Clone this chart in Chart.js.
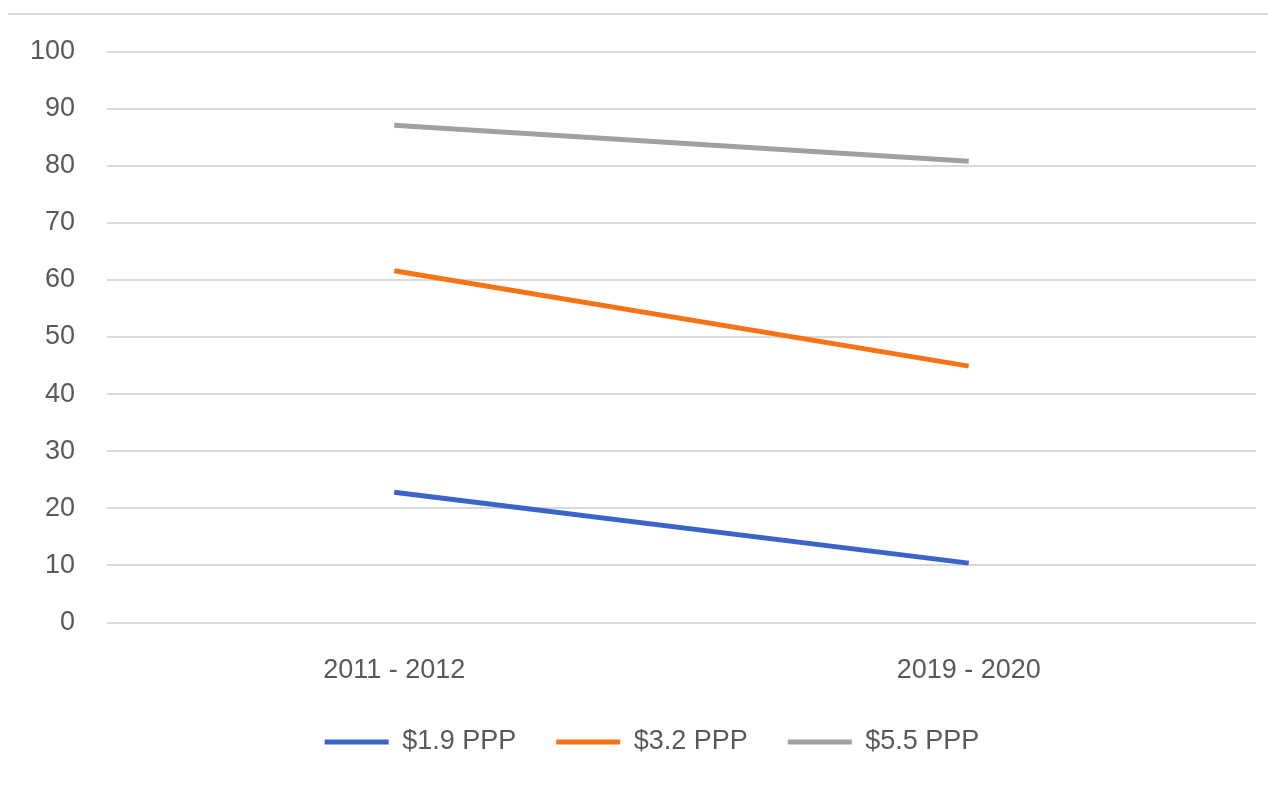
<!DOCTYPE html>
<html>
<head>
<meta charset="utf-8">
<script src="https://cdn.jsdelivr.net/npm/chart.js@4/dist/chart.umd.min.js"></script>
<style>
  html, body { margin: 0; padding: 0; background: #ffffff; }
  #wrap { position: relative; width: 1268px; height: 786px; overflow: hidden; }
  #topline { position: absolute; left: 8px; right: 0; top: 13px; height: 2px; background: #d9d9d9; }
  canvas { position: absolute; left: 0; top: 0; }
</style>
</head>
<body>
<div id="wrap">
  <div id="topline"></div>
  <canvas id="c" width="1268" height="786"></canvas>
</div>
<script>
const categories = ["2011 - 2012", "2019 - 2020"];
const seriesNames = ["$1.9 PPP", "$3.2 PPP", "$5.5 PPP"];
const ppp19 = [22.8, 10.4];
const ppp32 = [61.6, 44.9];
const ppp55 = [87.1, 80.8];
const seriesColors = ["#3B64C8", "#F87315", "#A0A0A0"];
const yMin = 0, yMax = 100, yStep = 10;

const FONT = "'Liberation Sans', Arial, sans-serif";
const TEXT = "#595959";

const values = [ppp19, ppp32, ppp55];
const datasets = seriesNames.map((name, i) => ({
  label: name,
  data: values[i],
  borderColor: seriesColors[i],
  backgroundColor: seriesColors[i],
  borderWidth: 5,
  borderCapStyle: 'butt',
  pointRadius: 0,
  pointHoverRadius: 0,
  tension: 0,
  fill: false
}));

const legendShift = {
  id: 'legendShift',
  afterLayout(chart) {
    if (chart.legend) { chart.legend.left = 48; }
  }
};

new Chart(document.getElementById('c'), {
  type: 'line',
  data: { labels: categories, datasets },
  plugins: [legendShift],
  options: {
    responsive: false,
    devicePixelRatio: 1,
    animation: false,
    events: [],
    layout: { padding: { top: 51.5, left: 0, right: 12, bottom: 20.5 } },
    plugins: {
      tooltip: { enabled: false },
      legend: {
        position: 'bottom',
        labels: {
          font: { family: FONT, size: 27 },
          color: TEXT,
          boxWidth: 64,
          boxHeight: 5,
          padding: 40,
          generateLabels: (chart) => chart.data.datasets.map((ds, i) => ({
            text: ds.label,
            fillStyle: ds.borderColor,
            strokeStyle: ds.borderColor,
            lineWidth: 0,
            fontColor: TEXT,
            datasetIndex: i,
            hidden: false
          }))
        }
      }
    },
    scales: {
      x: {
        offset: true,
        grid: { display: false },
        border: { display: false },
        ticks: {
          font: { family: FONT, size: 27 },
          color: TEXT,
          padding: 24
        },
        afterFit: (s) => { s.height = 66; }
      },
      y: {
        min: yMin,
        max: yMax,
        grid: { color: '#d9d9d9', lineWidth: 2, drawTicks: false },
        border: { display: false },
        ticks: {
          stepSize: yStep,
          font: { family: FONT, size: 27 },
          color: TEXT,
          padding: 32
        },
        afterFit: (s) => { s.width = 107; }
      }
    }
  }
});
</script>
</body>
</html>
